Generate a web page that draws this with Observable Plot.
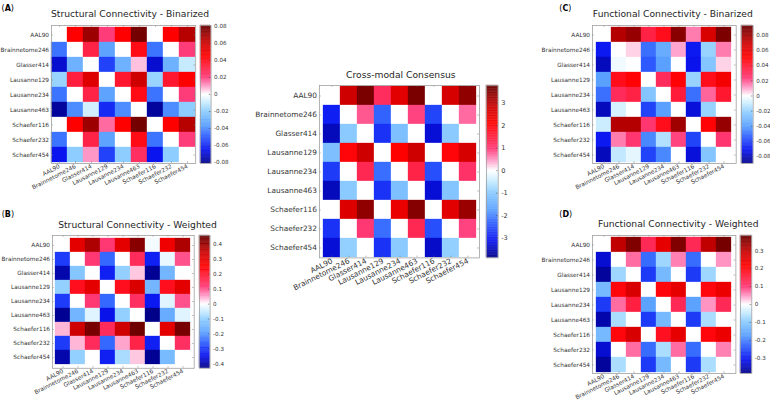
<!DOCTYPE html>
<html>
<head>
<meta charset="utf-8">
<script src="https://cdn.jsdelivr.net/npm/d3@7"></script>
<script src="https://cdn.jsdelivr.net/npm/@observablehq/plot@0.6"></script>
<style>
  html, body { margin: 0; padding: 0; background: #fff; }
  #root { position: relative; width: 770px; height: 401px; overflow: hidden; background: #fff; font-family: "DejaVu Sans", sans-serif; }
  #root > svg, #root > figure { position: absolute; margin: 0; }
</style>
</head>
<body>
<div id="root"></div>
<script>
const labels = ["AAL90","Brainnetome246","Glasser414","Lausanne129","Lausanne234","Lausanne463","Schaefer116","Schaefer232","Schaefer454"];

const scBinarized = [
  [0, 0.045, 0.07, 0.02, 0.045, 0.078, 0, 0.045, 0.065],
  [-0.045, 0, 0.03, -0.035, 0, 0.04, -0.045, 0, 0.02],
  [-0.07, -0.03, 0, -0.055, -0.03, 0.006, -0.07, -0.03, -0.01],
  [-0.018, 0.032, 0.055, 0, 0.035, 0.06, -0.018, 0.035, 0.045],
  [-0.045, 0, 0.03, -0.035, 0, 0.04, -0.045, 0, 0.02],
  [-0.078, -0.04, -0.008, -0.06, -0.04, 0, -0.078, -0.04, -0.02],
  [0, 0.045, 0.07, 0.015, 0.045, 0.078, 0, 0.045, 0.065],
  [-0.045, 0, 0.03, -0.035, 0, 0.04, -0.045, 0, 0.02],
  [-0.065, -0.02, 0.01, -0.055, -0.02, 0.025, -0.065, -0.02, 0]
];
const scWeighted = [
  [0, 0.30, 0.38, 0.12, 0.30, 0.42, -0.01, 0.28, 0.38],
  [-0.30, 0, 0.12, -0.25, 0, 0.15, -0.33, -0.02, 0.10],
  [-0.40, -0.12, 0, -0.33, -0.10, 0.03, -0.42, -0.15, 0],
  [-0.10, 0.22, 0.30, 0, 0.22, 0.32, -0.15, 0.22, 0.30],
  [-0.30, 0, 0.12, -0.25, 0, 0.14, -0.34, -0.03, 0.10],
  [-0.42, -0.15, -0.03, -0.35, -0.10, 0, -0.43, -0.17, -0.03],
  [0.04, 0.34, 0.44, 0.15, 0.34, 0.45, 0, 0.30, 0.44],
  [-0.30, 0.04, 0.15, -0.25, 0.05, 0.17, -0.33, 0, 0.14],
  [-0.40, -0.10, 0, -0.33, -0.08, 0.03, -0.42, -0.14, 0]
];
const consensus = [
  [0, 2.8, 3.6, 1.2, 2.5, 3.6, 0, 2.7, 3.4],
  [-3.0, 0, 0.8, -2.3, 0, 0.9, -2.6, 0, 0.7],
  [-3.5, -1.0, 0, -2.8, -1.2, 0, -3.3, -1.0, 0],
  [-1.2, 2.0, 2.8, 0, 2.1, 2.8, 0, 2.0, 2.7],
  [-2.7, 0, 1.3, -2.2, 0, 1.4, -2.5, 0, 1.1],
  [-3.5, -1.0, 0, -2.8, -1.2, 0, -3.3, -1.1, 0],
  [0, 2.6, 3.4, 0, 2.4, 3.5, 0, 2.5, 3.3],
  [-2.8, 0, 1.0, -2.2, 0, 1.3, -2.5, 0, 0.9],
  [-3.3, -0.9, 0, -2.8, -1.0, 0, -3.4, -0.9, 0]
];
const fcBinarized = [
  [0, 0.075, 0.082, 0.035, 0.045, 0.085, 0.015, 0.065, 0.088],
  [-0.07, 0, 0.005, -0.05, -0.035, 0.01, -0.07, -0.02, 0.015],
  [-0.08, -0.003, 0, -0.055, -0.04, 0, -0.072, -0.025, 0.005],
  [-0.04, 0.045, 0.05, 0, 0.03, 0.05, -0.02, 0.045, 0.055],
  [-0.05, 0.03, 0.035, -0.025, 0, 0.038, -0.05, 0.018, 0.04],
  [-0.08, -0.008, 0, -0.06, -0.04, 0, -0.075, -0.02, 0],
  [-0.01, 0.075, 0.075, 0.025, 0.045, 0.08, 0, 0.05, 0.082],
  [-0.07, 0.015, 0.025, -0.045, -0.015, 0.022, -0.06, 0, 0.025],
  [-0.08, -0.012, -0.005, -0.06, -0.045, 0, -0.075, -0.025, 0]
];
const fcWeighted = [
  [0, 0.30, 0.36, 0.13, 0.25, 0.36, 0.13, 0.30, 0.37],
  [-0.33, 0, 0.07, -0.22, -0.08, 0.06, -0.22, 0, 0.05],
  [-0.37, -0.08, 0, -0.27, -0.13, 0, -0.27, -0.08, 0],
  [-0.13, 0.20, 0.27, 0, 0.20, 0.25, 0, 0.20, 0.24],
  [-0.27, 0.07, 0.15, -0.17, 0, 0.13, -0.17, 0.05, 0.13],
  [-0.36, -0.07, 0, -0.27, -0.13, 0, -0.27, -0.07, 0],
  [-0.13, 0.20, 0.27, 0, 0.18, 0.25, 0, 0.20, 0.24],
  [-0.33, 0, 0.07, -0.22, -0.07, 0.07, -0.22, 0, 0.06],
  [-0.37, -0.07, 0, -0.27, -0.13, 0, -0.27, -0.07, 0]
];

const ticksSmall = [-0.08,-0.06,-0.04,-0.02,0,0.02,0.04,0.06,0.08];
const ticksB = [-0.4,-0.3,-0.2,-0.1,0,0.1,0.2,0.3,0.4];
const ticksCons = [-3,-2,-1,0,1,2,3];
const ticksD = [-0.3,-0.2,-0.1,0,0.1,0.2,0.3];

const cmapT = [-1, -0.8, -0.6, -0.45, -0.25, -0.12, 0, 0.12, 0.25, 0.55, 0.75, 1];
const cmapC = ["#000088","#0a14f0","#3060ff","#5aa0ff","#8cccff","#c8ecff","#ffffff","#ff9ac8","#ff3a78","#ff0000","#cc0000","#660000"];

const root = document.getElementById("root");
const FONT = "DejaVu Sans";

function place(el, left, top) {
  el.style.position = "absolute";
  el.style.left = left + "px";
  el.style.top = top + "px";
  root.appendChild(el);
}

function panel(matrix, o) {
  const data = matrix.flatMap((row, i) => row.map((v, j) => ({row: labels[i], col: labels[j], v})));
  const color = {
    type: "linear",
    domain: cmapT.map(t => t < 0 ? -t * o.vmin : t * o.vmax),
    range: cmapC,
    interpolate: "rgb"
  };
  const ML = o.ml, MT = 4, MR = 4, MB = o.mb;
  const w = o.x1 - o.x0, h = o.y1 - o.y0;
  const hm = Plot.plot({
    width: ML + w + MR, height: MT + h + MB,
    marginLeft: ML, marginTop: MT, marginRight: MR, marginBottom: MB,
    style: {fontFamily: FONT, fontSize: o.fs + "px", color: "#262626", background: "transparent", overflow: "visible"},
    x: {domain: labels, padding: 0, axis: null, label: null},
    y: {domain: labels, padding: 0, axis: null, label: null},
    color,
    marks: [
      Plot.cell(data, {x: "col", y: "row", fill: "v", stroke: "v", strokeWidth: 0.3}),
      Plot.tickX(labels, {x: d => d, insetTop: h - 1.8, stroke: "#777", strokeWidth: 0.5}),
      Plot.tickX(labels, {x: d => d, insetBottom: h - 1.8, stroke: "#777", strokeWidth: 0.5}),
      Plot.tickY(labels, {y: d => d, insetRight: w - 1.8, stroke: "#777", strokeWidth: 0.5}),
      Plot.tickY(labels, {y: d => d, insetLeft: w - 1.8, stroke: "#777", strokeWidth: 0.5}),
      Plot.frame({stroke: "#a0a0a0", strokeWidth: 0.8}),
      Plot.axisX({anchor: "bottom", label: null, tickSize: 0, tickPadding: 2.5, tickRotate: o.rot, fontSize: o.fs, fill: "#333"}),
      Plot.axisY({anchor: "left", label: null, tickSize: 0, tickPadding: 2.5, fontSize: o.fs, fill: "#333"})
    ]
  });
  place(hm, o.x0 - ML, o.y0 - MT);

  const N = 240;
  const strips = d3.range(N).map(i => {
    const a = o.vmin + (o.vmax - o.vmin) * i / N;
    const b = o.vmin + (o.vmax - o.vmin) * (i + 1) / N;
    return {y1: a, y2: b, v: (a + b) / 2};
  });
  const cw = o.cb1 - o.cb0;
  const cb = Plot.plot({
    width: cw + 34, height: h + 8,
    marginLeft: 2, marginRight: 32, marginTop: 4, marginBottom: 4,
    style: {fontFamily: FONT, fontSize: o.cfs + "px", color: "#262626", background: "transparent", overflow: "visible"},
    y: {domain: [o.vmin, o.vmax], axis: null, label: null},
    color,
    marks: [
      Plot.rect(strips, {y1: "y1", y2: "y2", fill: "v", stroke: "v", strokeWidth: 0.3}),
      Plot.ruleY(o.ticks, {y: d => d, insetLeft: cw - 1.8, stroke: "#444", strokeWidth: 0.5}),
      Plot.frame({stroke: "#a0a0a0", strokeWidth: 0.8}),
      Plot.axisY(o.ticks, {anchor: "right", label: null, tickSize: 0, tickPadding: 3, fontSize: o.cfs, fill: "#333",
        tickFormat: d => String(Math.round(d * 100) / 100)})
    ]
  });
  place(cb, o.cb0 - 2, o.y0 - 4);
}

panel(scBinarized, {x0: 50.5, x1: 194.7, y0: 24.7, y1: 162.7, cb0: 199.7, cb1: 210.3, vmin: -0.081, vmax: 0.081, ticks: ticksSmall, fs: 5.8, cfs: 5.6, ml: 56, mb: 40, rot: -27});
panel(scWeighted, {x0: 52.3, x1: 194, y0: 234.7, y1: 367.5, cb0: 198.7, cb1: 209.3, vmin: -0.43, vmax: 0.46, ticks: ticksB, fs: 5.8, cfs: 5.6, ml: 56, mb: 40, rot: -27});
panel(consensus, {x0: 319.3, x1: 479.3, y0: 85.3, y1: 257.7, cb0: 486, cb1: 497.7, vmin: -3.88, vmax: 3.79, ticks: ticksCons, fs: 7.4, cfs: 6.6, ml: 70, mb: 48, rot: -27});
panel(fcBinarized, {x0: 592.3, x1: 736, y0: 24.7, y1: 162.7, cb0: 741, cb1: 752.7, vmin: -0.089, vmax: 0.093, ticks: ticksSmall, fs: 5.8, cfs: 5.6, ml: 56, mb: 40, rot: -27});
panel(fcWeighted, {x0: 592.3, x1: 735.7, y0: 234.7, y1: 372.7, cb0: 740, cb1: 751.3, vmin: -0.385, vmax: 0.385, ticks: ticksD, fs: 5.8, cfs: 5.6, ml: 56, mb: 40, rot: -27});

// Titles and panel letters
const titles = [
  {text: "Structural Connectivity - Binarized", x: 130, y: 16.5},
  {text: "Structural Connectivity - Weighted", x: 137.5, y: 227.7},
  {text: "Cross-modal Consensus", x: 400.8, y: 78.3},
  {text: "Functional Connectivity - Binarized", x: 672.8, y: 16.7},
  {text: "Functional Connectivity - Weighted", x: 678.3, y: 226.7}
];
const letters = [
  {text: "A", x: 1.5, y: 10.5},
  {text: "B", x: 1.7, y: 216.5},
  {text: "C", x: 559.3, y: 10.5},
  {text: "D", x: 559.3, y: 216.5}
];
const overlay = d3.create("svg")
  .attr("width", 770).attr("height", 401)
  .style("position", "absolute").style("left", "0px").style("top", "0px")
  .style("font-family", FONT).style("pointer-events", "none");
overlay.selectAll("text.title").data(titles).join("text")
  .attr("class", "title")
  .attr("x", d => d.x).attr("y", d => d.y)
  .attr("text-anchor", "middle").attr("font-size", 9.2).attr("font-weight", "normal").attr("fill", "#262626")
  .text(d => d.text);
const lt = overlay.selectAll("text.letter").data(letters).join("text")
  .attr("class", "letter")
  .attr("x", d => d.x).attr("y", d => d.y)
  .attr("font-size", 8).attr("fill", "#000");
lt.append("tspan").text("(");
lt.append("tspan").attr("font-weight", "bold").text(d => d.text);
lt.append("tspan").text(")");
root.appendChild(overlay.node());
</script>
</body>
</html>
